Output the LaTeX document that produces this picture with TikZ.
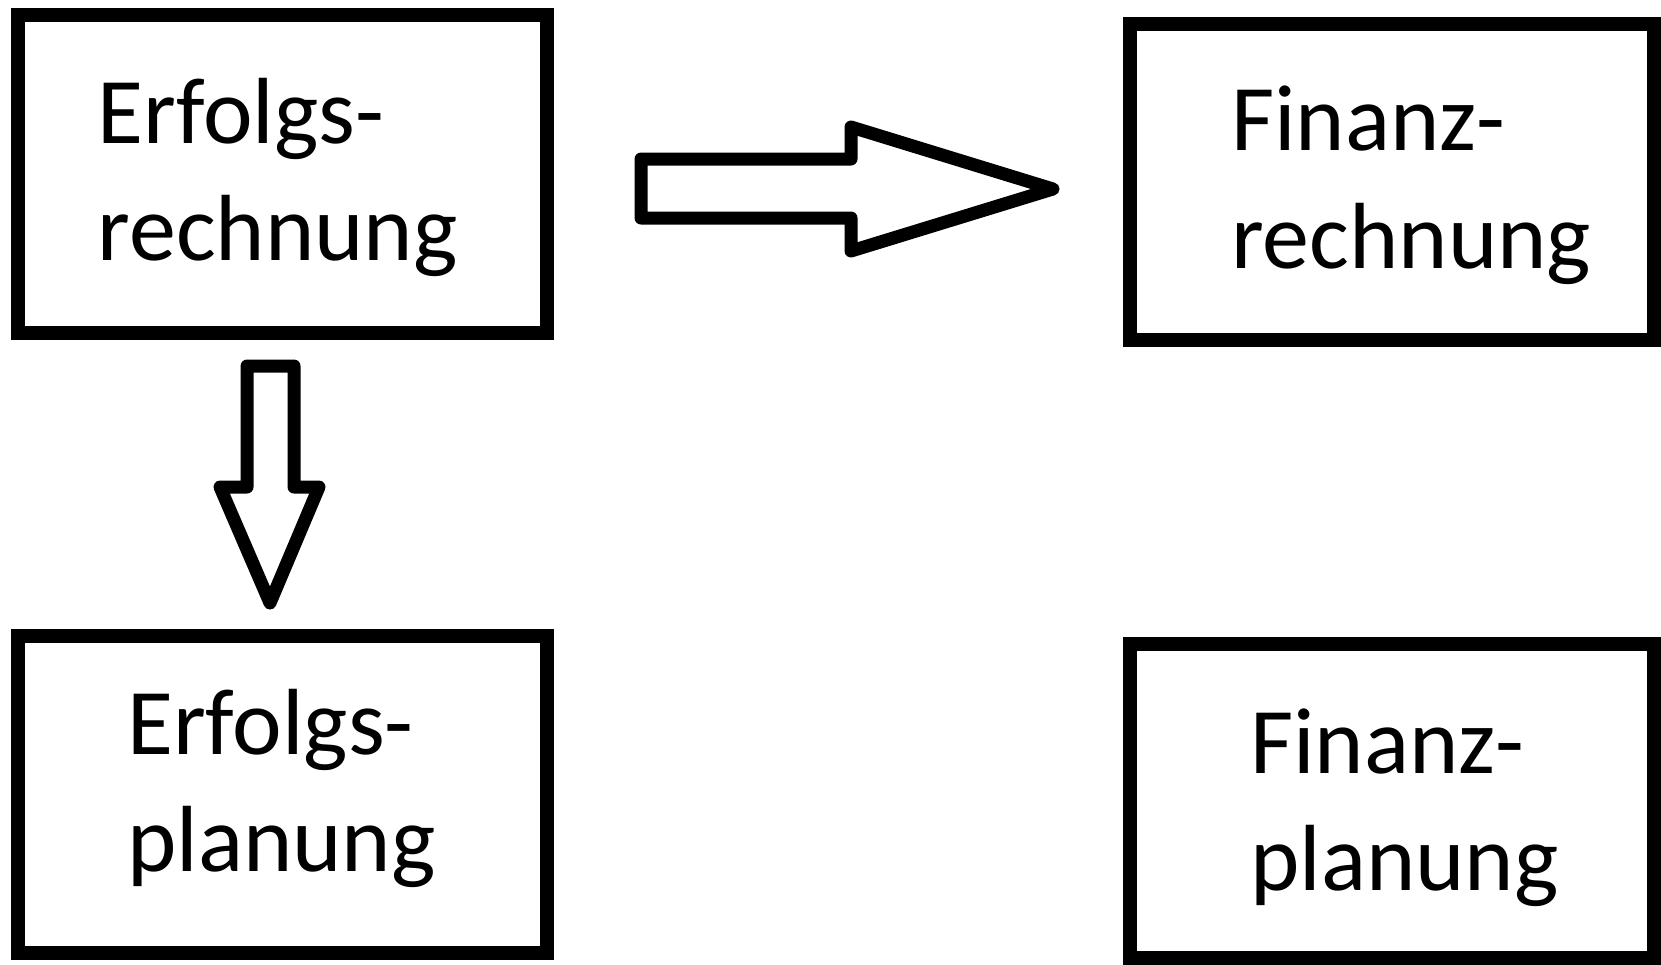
\documentclass[tikz,border=0pt]{standalone}
\usepackage{fontspec}
\setmainfont{Carlito}
\begin{document}
\begin{tikzpicture}[x=1pt,y=-1pt,
  box/.style={draw=black,line width=14pt,minimum width=#1,inner sep=0pt,outer sep=0pt},
  lbl/.style={anchor=base west,inner sep=0pt,font=\fontsize{94}{117}\selectfont},
  blockarrow/.style={draw=black,line width=13pt,line join=round,fill=white}]
\useasboundingbox (0,0) rectangle (1661,964);
% boxes
\node[box=529pt,minimum height=317.5pt] (er) at (282,173.75) {};
\node[box=524.5pt,minimum height=316pt] (fr) at (1391.75,181.5) {};
\node[box=529pt,minimum height=317pt] (ep) at (282,794) {};
\node[box=524.5pt,minimum height=314pt] (fp) at (1391.75,800.5) {};
% labels
\node[lbl] (er1) at (97.5,143) {Erfolgs-};
\node[lbl] (er2) at (97.5,260) {rechnung};
\node[lbl] (fr1) at (1231,150.5) {Finanz-};
\node[lbl] (fr2) at (1231,268) {rechnung};
\node[lbl] (ep1) at (127,754) {Erfolgs-};
\node[lbl] (ep2) at (127,871) {planung};
\node[lbl] (fp1) at (1250,773) {Finanz-};
\node[lbl] (fp2) at (1250,890) {planung};
% block arrows
\draw[blockarrow] (641,159) -- (851,159) -- (851,127) -- (1053,189) -- (851,251) -- (851,218) -- (641,218) -- cycle;
\draw[blockarrow] (247,366) -- (294,366) -- (294,487) -- (319,487) -- (270,603) -- (220,487) -- (247,487) -- cycle;
\end{tikzpicture}
\end{document}
